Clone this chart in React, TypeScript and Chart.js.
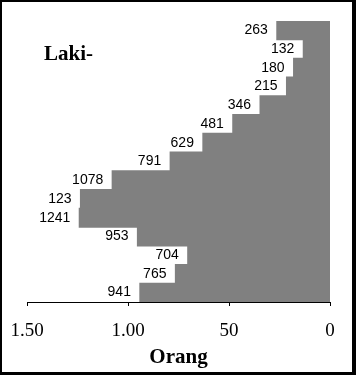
import React, { useEffect, useRef } from "react";
import { Chart, registerables } from "chart.js";

Chart.register(...registerables);

const categories = ["70+", "65-69", "60-64", "55-59", "50-54", "45-49", "40-44", "35-39", "30-34", "25-29", "20-24", "15-19", "10-14", "5-9", "0-4"];
const barValues = [263, 132, 180, 215, 346, 481, 629, 791, 1078, 1235, 1241, 953, 704, 765, 941];
const valueLabels = ["263", "132", "180", "215", "346", "481", "629", "791", "1078", "123", "1241", "953", "704", "765", "941"];
const tickValues = [0, 500, 1000, 1500];
const tickLabels = ["0", "50", "1.00", "1.50"];
const panelTitle = "Laki-";
const axisTitle = "Orang";

const SERIF = "'Liberation Serif', 'Times New Roman', serif";
const SANS = "'Liberation Sans', Arial, sans-serif";

export default function App() {
  const ref = useRef<HTMLCanvasElement | null>(null);

  useEffect(() => {
    document.body.style.margin = "0";
    const canvas = ref.current;
    if (!canvas) return;

    const labelPlugin = {
      id: "valueLabels",
      afterDatasetsDraw(chart: any) {
        const ctx = chart.ctx;
        const meta = chart.getDatasetMeta(0);
        ctx.save();
        ctx.font = `14px ${SANS}`;
        ctx.fillStyle = "#000";
        ctx.textAlign = "right";
        ctx.textBaseline = "middle";
        meta.data.forEach((el: any, i: number) => {
          ctx.fillText(valueLabels[i], el.x - 9, el.y);
        });
        ctx.font = `bold 21px ${SERIF}`;
        ctx.textAlign = "left";
        ctx.fillText(panelTitle, 44, 55);
        ctx.restore();
      },
      afterDraw(chart: any) {
        const ctx = chart.ctx;
        const w = chart.width;
        const h = chart.height;
        ctx.save();
        ctx.fillStyle = "#000";
        ctx.fillRect(0, 0, w, 2);
        ctx.fillRect(0, 0, 2, h);
        ctx.fillRect(w - 4, 0, 4, h);
        ctx.fillRect(0, h - 3, w, 3);
        ctx.restore();
      },
    };

    const chart = new Chart(canvas, {
      type: "bar",
      data: {
        labels: categories,
        datasets: [
          {
            data: barValues,
            backgroundColor: "#808080",
            borderWidth: 0,
            inflateAmount: 0.6,
            categoryPercentage: 1,
            barPercentage: 1,
          },
        ],
      },
      options: {
        indexAxis: "y",
        responsive: false,
        animation: false,
        layout: { padding: { left: 27, top: 21, right: 26, bottom: 0 } },
        plugins: {
          legend: { display: false },
          tooltip: { enabled: false },
          title: { display: false },
        },
        scales: {
          y: { display: false },
          x: {
            reverse: true,
            min: 0,
            max: 1500,
            afterFit(scale: any) {
              scale.height = 73;
            },
            afterBuildTicks(scale: any) {
              scale.ticks = tickValues.map((v) => ({ value: v }));
            },
            ticks: {
              autoSkip: false,
              maxRotation: 0,
              color: "#000",
              padding: 14,
              font: { family: SERIF, size: 19 },
              callback: (v: any) => {
                const i = tickValues.indexOf(Number(v));
                return i >= 0 ? tickLabels[i] : "";
              },
            },
            grid: {
              drawOnChartArea: false,
              drawTicks: true,
              tickLength: 4,
              color: "#000",
            },
            border: { display: true, color: "#000", width: 1 },
            title: {
              display: true,
              text: axisTitle,
              color: "#000",
              font: { family: SERIF, size: 21, weight: "bold" },
              padding: { top: 0, bottom: 5 },
            },
          },
        },
      },
      plugins: [labelPlugin],
    } as any);

    return () => chart.destroy();
  }, []);

  return <canvas ref={ref} width={356} height={375} style={{ display: "block" }} />;
}
